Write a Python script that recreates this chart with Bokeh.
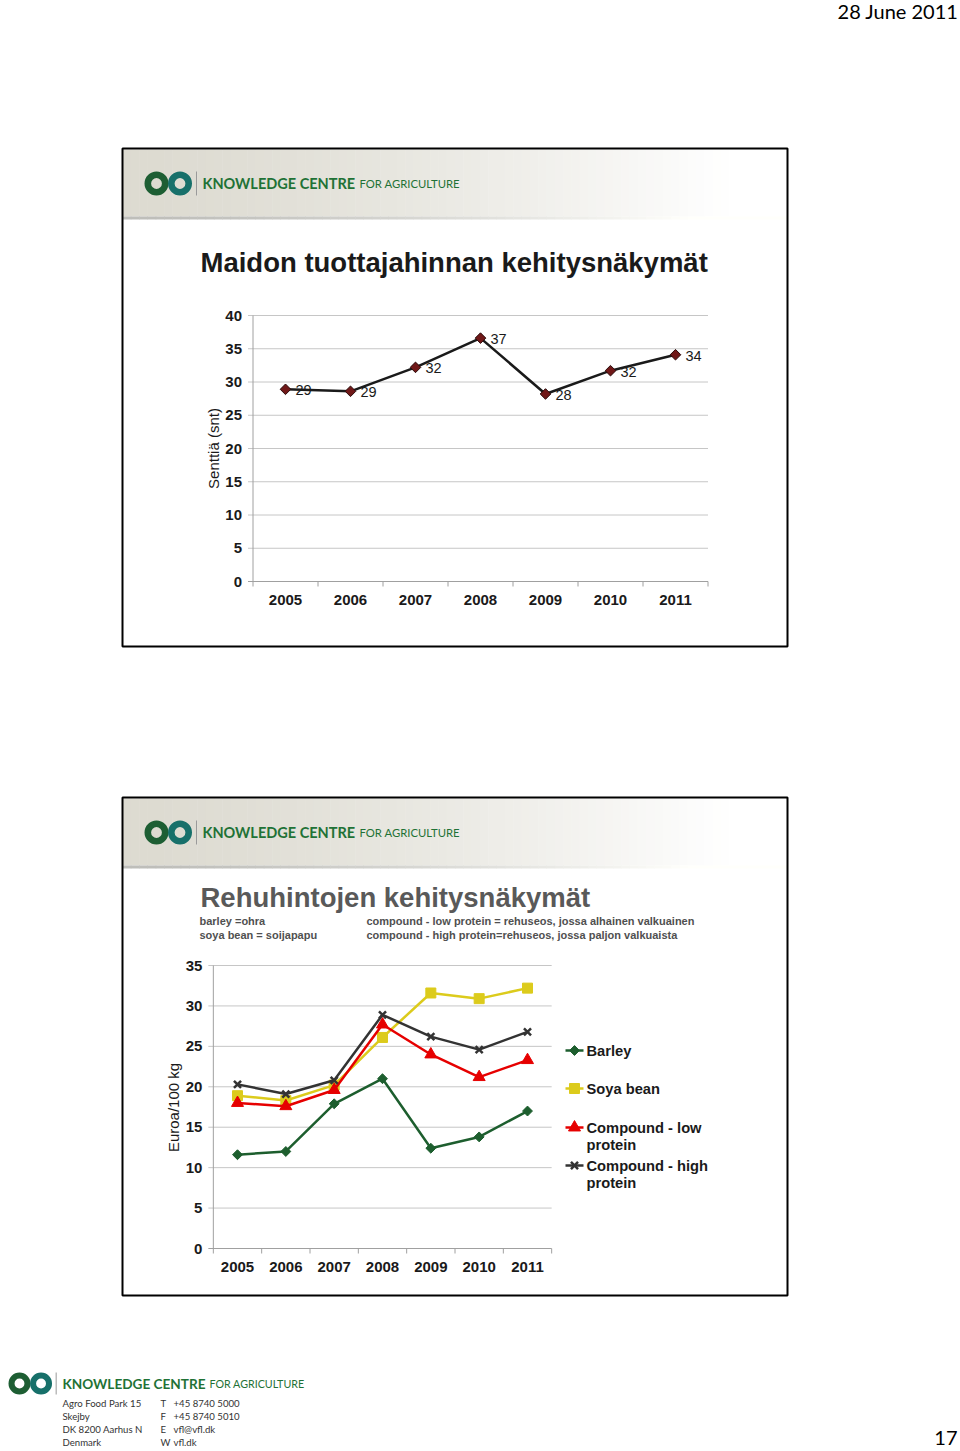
import math
from bokeh.plotting import figure
from bokeh.models import Range1d
from bokeh.core.properties import value
from bokeh.embed import file_html
from bokeh.resources import INLINE

W, H = 960, 1451

# ---------------- data ----------------
years = [2005, 2006, 2007, 2008, 2009, 2010, 2011]
year_labels = ["2005", "2006", "2007", "2008", "2009", "2010", "2011"]

milk_price = [28.9, 28.6, 32.2, 36.6, 28.2, 31.7, 34.1]
milk_ticks = [0, 5, 10, 15, 20, 25, 30, 35, 40]

barley = [11.6, 12.0, 17.9, 21.0, 12.4, 13.8, 17.0]
soya_bean = [18.9, 18.3, 20.2, 26.1, 31.6, 30.9, 32.2]
compound_low = [18.0, 17.6, 19.6, 27.7, 24.0, 21.2, 23.3]
compound_high = [20.3, 19.1, 20.8, 28.9, 26.2, 24.6, 26.8]
feed_ticks = [0, 5, 10, 15, 20, 25, 30, 35]
series_names = ["Barley", "Soya bean", "Compound - low protein", "Compound - high protein"]

# ---------------- page figure ----------------
p = figure(width=W, height=H, x_range=Range1d(0, W), y_range=Range1d(H, 0),
           min_border=0, output_backend="svg", toolbar_location=None,
           x_axis_location=None, y_axis_location=None)
p.xgrid.visible = False
p.ygrid.visible = False
p.outline_line_color = None
p.background_fill_color = "white"
p.border_fill_color = "white"

ARIAL = value("Liberation Sans")
CAL = value("Lato")


def value_at(v0, p0, v1, p1, px):
    k = (p1 - p0) / (v1 - v0)
    return v0 + (px - p0) / k


def add_chart_ranges(name, x_anchor, y_anchor):
    (xv0, xp0, xv1, xp1) = x_anchor
    (yv0, yp0, yv1, yp1) = y_anchor
    p.extra_x_ranges[name + "_x"] = Range1d(start=value_at(xv0, xp0, xv1, xp1, 0),
                                            end=value_at(xv0, xp0, xv1, xp1, W))
    p.extra_y_ranges[name + "_y"] = Range1d(start=value_at(yv0, yp0, yv1, yp1, H),
                                            end=value_at(yv0, yp0, yv1, yp1, 0))
    kx = (xp1 - xp0) / (xv1 - xv0)
    ky = (yp0 - yp1) / (yv1 - yv0)
    return kx, ky


def logo(cx, cy, r, fs, text_x, reg_x, reg_fs):
    p.annulus(x=[cx, cx + 23.5 * r / 12], y=[cy, cy], inner_radius=r * 0.45,
              outer_radius=r, fill_color=["#1d5e33", "#17706a"], line_color=None)
    sep = cx + 40 * r / 12
    p.segment(x0=[sep], y0=[cy - r], x1=[sep], y1=[cy + r], line_color="#9a9a9a", line_width=1)
    p.text(x=[text_x], y=[cy], text=["KNOWLEDGE CENTRE"], text_font=CAL,
           text_font_size=f"{fs}px", text_font_style="bold", text_color="#1f7236",
           text_baseline="middle", text_align="left")
    p.text(x=[reg_x], y=[cy], text=["FOR AGRICULTURE"], text_font=CAL,
           text_font_size=f"{reg_fs}px", text_color="#1f7236",
           text_baseline="middle", text_align="left")


# ---------------- slide decoration ----------------
def slide(top):
    left, right = 122, 787
    bottom = top + 498
    n = 80
    xs = [left + (right - left) * i / n for i in range(n + 1)]
    lefts, rights, cols, scol = [], [], [], []
    for i in range(n):
        t = min(1.0, max(0.0, (xs[i] - left) / 600.0))
        t = t ** 1.4
        r = int(221 + (255 - 221) * t)
        g = int(219 + (255 - 219) * t)
        b = int(209 + (255 - 209) * t)
        lefts.append(xs[i]); rights.append(xs[i + 1] + 0.5)
        cols.append("#%02x%02x%02x" % (r, g, b))
        r2 = int(190 + (255 - 190) * min(1, t * 1.1))
        scol.append("#%02x%02x%02x" % (r2, r2, max(r2 - 4, 0)))
    p.quad(left=lefts, right=rights, top=[top + 1] * n, bottom=[top + 68] * n,
           fill_color=cols, line_color=None)
    p.quad(left=lefts, right=rights, top=[top + 68] * n, bottom=[top + 71] * n,
           fill_color=scol, line_color=None)
    logo(156, top + 35, 12, 14.5, 202, 359, 11.3)
    p.quad(left=[left], right=[right], top=[top], bottom=[bottom],
           fill_color=None, line_color="black", line_width=2)


def chart_axes(name, ticks, kx, ky, label_size):
    xn, yn = name + "_x", name + "_y"
    x0 = years[0] - 0.5
    x1 = years[-1] + 0.5
    top = ticks[-1]
    p.segment(x0=[x0 - 5 / kx] * (len(ticks) - 1), y0=ticks[1:], x1=[x1] * (len(ticks) - 1),
              y1=ticks[1:], line_color="#c6c6c6", line_width=1, x_range_name=xn, y_range_name=yn)
    p.segment(x0=[x0, x0 - 5 / kx], y0=[0, 0], x1=[x0, x1], y1=[top, 0],
              line_color="#a0a0a0", line_width=1, x_range_name=xn, y_range_name=yn)
    bounds = [y - 0.5 for y in years] + [years[-1] + 0.5]
    p.segment(x0=bounds, y0=[0] * len(bounds), x1=bounds, y1=[-5 / ky] * len(bounds),
              line_color="#a0a0a0", line_width=1, x_range_name=xn, y_range_name=yn)
    p.text(x=[x0] * len(ticks), y=ticks, text=[str(t) for t in ticks], x_offset=-11,
           text_align="right", text_baseline="middle", text_font=ARIAL,
           text_font_size=label_size, text_font_style="bold", text_color="#1a1a1a",
           x_range_name=xn, y_range_name=yn)
    p.text(x=years, y=[0] * len(years), text=year_labels, y_offset=18,
           text_align="center", text_baseline="middle", text_font=ARIAL,
           text_font_size=label_size, text_font_style="bold", text_color="#1a1a1a",
           x_range_name=xn, y_range_name=yn)


# ---------------- page header / footer ----------------
p.text(x=[958], y=[10], text=["28 June 2011"], text_font=CAL, text_font_size="20px",
       text_align="right", text_baseline="middle", text_color="black")
p.text(x=[957], y=[1437], text=["17"], text_font=CAL, text_font_size="20px",
       text_align="right", text_baseline="middle", text_color="black")

# ---------------- slide 1 ----------------
slide(148)
p.text(x=[200], y=[262], text=["Maidon tuottajahinnan kehitysnäkymät"], text_font=ARIAL,
       text_font_size="27.5px", text_font_style="bold", text_color="#1a1a1a",
       text_baseline="middle")
kx1, ky1 = add_chart_ranges("milk", (2005, 285, 2011, 675), (0, 581, 40, 315))
chart_axes("milk", milk_ticks, kx1, ky1, "15px")
p.text(x=[213], y=[448], text=["Senttiä (snt)"], angle=math.pi / 2, text_font=ARIAL,
       text_font_size="15px", text_color="#1a1a1a", text_align="center", text_baseline="middle")
p.line(years, milk_price, line_color="#1a1a1a", line_width=2.5,
       x_range_name="milk_x", y_range_name="milk_y")
p.scatter(years, milk_price, marker="square", angle=math.pi / 4, size=7.5,
          fill_color="#701818", line_color="#2b0b0b", line_width=1,
          x_range_name="milk_x", y_range_name="milk_y")
p.text(x=years, y=milk_price, text=[f"{v:.0f}" for v in milk_price], x_offset=10, y_offset=1,
       text_font=ARIAL, text_font_size="14.5px", text_color="#1a1a1a", text_baseline="middle",
       x_range_name="milk_x", y_range_name="milk_y")

# ---------------- slide 2 ----------------
slide(797)
p.text(x=[200], y=[897], text=["Rehuhintojen kehitysnäkymät"], text_font=ARIAL,
       text_font_size="27.5px", text_font_style="bold", text_color="#595959",
       text_baseline="middle")
p.text(x=[199, 199, 366, 366], y=[920, 934, 920, 934],
       text=["barley =ohra", "soya bean = soijapapu",
             "compound - low protein = rehuseos, jossa alhainen valkuainen",
             "compound - high protein=rehuseos, jossa paljon valkuaista"],
       text_font=ARIAL, text_font_size="11px", text_font_style="bold", text_color="#505050",
       text_baseline="middle")
kx2, ky2 = add_chart_ranges("feed", (2005, 237, 2011, 527), (0, 1248, 35, 965))
chart_axes("feed", feed_ticks, kx2, ky2, "15px")
p.text(x=[173], y=[1107], text=["Euroa/100 kg"], angle=math.pi / 2, text_font=ARIAL,
       text_font_size="15px", text_color="#1a1a1a", text_align="center", text_baseline="middle")

styles = [
    dict(color="#1d5e2e", marker="square", size=7, angle=math.pi / 4, lw=0),
    dict(color="#dccb1c", marker="square", size=10, angle=0, lw=0),
    dict(color="#e60000", marker="triangle", size=12, angle=0, lw=0),
    dict(color="#333333", marker="x", size=10, angle=0, lw=2.5),
]
for vals, st in zip([barley, soya_bean, compound_low, compound_high], styles):
    p.line(years, vals, line_color=st["color"], line_width=2.5,
           x_range_name="feed_x", y_range_name="feed_y")
    p.scatter(years, vals, marker=st["marker"], size=st["size"], angle=st["angle"],
              fill_color=st["color"], line_color=st["color"], line_width=max(st["lw"], 1),
              x_range_name="feed_x", y_range_name="feed_y")

# legend
legend_rows = [1050, 1088, 1127, 1165]
for name, st, ly in zip(series_names, styles, legend_rows):
    p.segment(x0=[565], y0=[ly], x1=[583], y1=[ly], line_color=st["color"], line_width=2.5)
    p.scatter([574], [ly], marker=st["marker"], size=st["size"], angle=st["angle"],
              fill_color=st["color"], line_color=st["color"], line_width=max(st["lw"], 1))
    words = name.split(" ")
    if len(words) > 3:
        lines = [" ".join(words[:3]), " ".join(words[3:])]
    else:
        lines = [name]
    p.text(x=[586] * len(lines), y=[ly + 17 * i for i in range(len(lines))], text=lines,
           text_font=ARIAL, text_font_size="14.7px", text_font_style="bold",
           text_color="#1a1a1a", text_baseline="middle")

# ---------------- footer ----------------
logo(19, 1383, 11, 13.6, 62, 209, 10.7)
p.text(x=[62, 62, 62, 62], y=[1403, 1416, 1429, 1442],
       text=["Agro Food Park 15", "Skejby", "DK  8200 Aarhus N", "Denmark"],
       text_font=CAL, text_font_size="9.6px", text_color="#333333", text_baseline="middle")
p.text(x=[160, 160, 160, 160], y=[1403, 1416, 1429, 1442], text=["T", "F", "E", "W"],
       text_font=CAL, text_font_size="9.6px", text_color="#333333", text_baseline="middle")
p.text(x=[173, 173, 173, 173], y=[1403, 1416, 1429, 1442],
       text=["+45 8740 5000", "+45 8740 5010", "vfl@vfl.dk", "vfl.dk"],
       text_font=CAL, text_font_size="9.6px", text_color="#333333", text_baseline="middle")

open("out.html", "w").write(file_html(p, INLINE))
